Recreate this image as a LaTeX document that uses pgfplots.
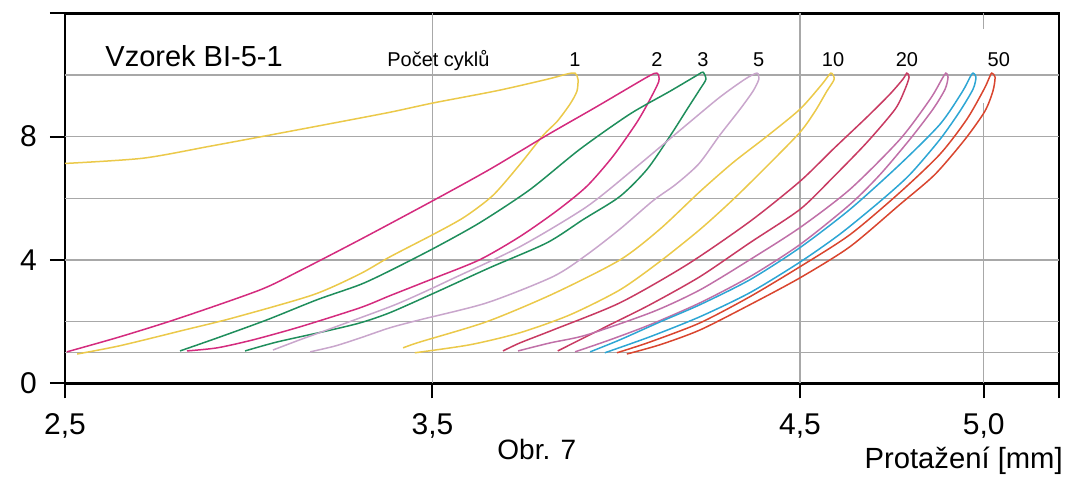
\documentclass[border=0pt]{standalone}
\usepackage{fontspec}
\setmainfont{Liberation Sans}
\usepackage{pgfplots}
\pgfplotsset{compat=1.18}

\definecolor{yellowc}{HTML}{EBC94A}
\definecolor{magc}{HTML}{D42B7E}
\definecolor{greenc}{HTML}{1F8E5C}
\definecolor{lilacc}{HTML}{C9A6CC}
\definecolor{crimc}{HTML}{C83A62}
\definecolor{mauvec}{HTML}{C070A8}
\definecolor{bluec}{HTML}{2DA6D4}
\definecolor{redc}{HTML}{D9452E}
\definecolor{gridc}{HTML}{A8A8A8}

\begin{document}
\begin{tikzpicture}
\useasboundingbox (-32.5pt,-46.85pt) rectangle (501.5pt,191.65pt);
\begin{axis}[
    at={(0pt,0pt)}, anchor=south west,
    scale only axis,
    width=497pt, height=185pt,
    xmin=2.5, xmax=5.205,
    ymin=0, ymax=12,
    clip=false,
    xtick={2.5,3.5,4.5,5.0},
    ytick={0,4,8},
    extra x ticks={5.205}, extra x tick labels={},
    extra y ticks={12}, extra y tick labels={},
    tick pos=left,
    tick align=outside,
    major tick length=7.5pt,
    every tick/.style={black, line width=1pt},
    axis line style={black, line width=1.3pt},
    /pgf/number format/assume math mode=true,
    xticklabel style={/pgf/number format/fixed, /pgf/number format/fixed zerofill,
        /pgf/number format/precision=1, /pgf/number format/use comma, yshift=-4pt},
    ticklabel style={font=\fontsize{15}{15}\selectfont},
    yticklabel style={xshift=-3pt},
    cyc/.style={no marks, line width=0.75pt, smooth, tension=0.45},
]
% grid
\draw[gridc, line width=0.6pt] (axis cs:2.5,1) -- (axis cs:5.205,1);
\draw[gridc, line width=0.6pt] (axis cs:2.5,2) -- (axis cs:5.205,2);
\draw[gridc, line width=0.6pt] (axis cs:2.5,4) -- (axis cs:5.205,4);
\draw[gridc, line width=0.6pt] (axis cs:2.5,6) -- (axis cs:5.205,6);
\draw[gridc, line width=0.6pt] (axis cs:2.5,8) -- (axis cs:5.205,8);
\draw[gridc, line width=0.6pt] (axis cs:2.5,10) -- (axis cs:5.205,10);
\draw[gridc, line width=0.6pt] (axis cs:3.5,0) -- (axis cs:3.5,12);
\draw[gridc, line width=0.6pt] (axis cs:4.5,0) -- (axis cs:4.5,12);
\draw[gridc, line width=0.6pt] (axis cs:5.0,0) -- (axis cs:5.0,9.1);
\draw[gridc, line width=0.6pt] (axis cs:5.0,11.5) -- (axis cs:5.0,12);

% cycle 1
\addplot[cyc, yellowc] coordinates {
(2.500,7.13) (2.712,7.30) (2.895,7.69) (3.066,8.07) (3.213,8.40) (3.384,8.79)
(3.501,9.09) (3.676,9.49) (3.812,9.86) (3.866,10.03) (3.888,10.06)
(3.896,9.86) (3.893,9.47) (3.874,9.05) (3.839,8.49) (3.801,8.04) (3.738,7.10)
(3.665,6.10) (3.588,5.40) (3.507,4.86) (3.384,4.10) (3.303,3.55) (3.175,2.87)
(2.957,2.12) (2.832,1.75) (2.650,1.22) (2.533,0.95)};
% cycle 2
\addplot[cyc, magc] coordinates {
(2.505,1.02) (2.650,1.51) (2.813,2.12) (3.031,3.03) (3.139,3.65) (3.303,4.66)
(3.507,5.96) (3.656,6.94) (3.812,8.05) (3.948,8.98) (4.084,9.93) (4.111,10.06)
(4.116,9.80) (4.092,9.21) (4.056,8.46) (3.991,7.36) (3.920,6.39) (3.839,5.60)
(3.738,4.76) (3.629,4.01) (3.507,3.42) (3.384,2.84) (3.303,2.45) (3.139,1.83)
(3.012,1.41) (2.914,1.15) (2.832,1.05)};
% cycle 3
\addplot[cyc, greenc] coordinates {
(2.813,1.05) (2.914,1.47) (3.050,2.06) (3.186,2.71) (3.303,3.20) (3.384,3.65)
(3.507,4.40) (3.629,5.21) (3.765,6.28) (3.901,7.59) (4.037,8.73) (4.146,9.47)
(4.220,9.99) (4.236,10.09) (4.244,9.86) (4.228,9.54) (4.193,8.89) (4.146,8.01)
(4.084,6.94) (4.010,6.06) (3.910,5.31) (3.812,4.56) (3.656,3.75) (3.507,2.94)
(3.384,2.29) (3.303,1.96) (3.213,1.70) (3.077,1.34) (2.990,1.05)};
% cycle 5
\addplot[cyc, lilacc] coordinates {
(3.066,1.08) (3.139,1.41) (3.213,1.73) (3.384,2.48) (3.466,2.90) (3.556,3.40)
(3.738,4.43) (3.920,5.73) (4.056,7.03) (4.193,8.40) (4.282,9.28) (4.350,9.86)
(4.383,10.06) (4.388,9.86) (4.372,9.47) (4.337,8.89) (4.282,8.05) (4.225,7.12)
(4.162,6.45) (4.100,5.92) (4.010,5.00) (3.920,4.17) (3.828,3.46) (3.648,2.61) (3.466,2.06)
(3.384,1.80) (3.303,1.47) (3.235,1.21) (3.167,1.02)};
% cycle 10
\addplot[cyc, yellowc] coordinates {
(3.420,1.15) (3.466,1.34) (3.648,2.00) (3.828,2.90) (4.010,4.00) (4.119,5.00)
(4.228,6.22) (4.318,7.16) (4.410,8.01) (4.500,8.89) (4.560,9.70) (4.584,10.06)
(4.593,9.86) (4.573,9.47) (4.541,8.82) (4.500,8.14) (4.410,7.04) (4.318,5.96)
(4.228,4.99) (4.119,3.95) (4.010,3.03) (3.874,2.22) (3.738,1.64) (3.602,1.25)
(3.452,0.99)};
% cycle 20
\addplot[cyc, crimc] coordinates {
(3.692,1.05) (3.738,1.31) (3.828,1.73) (4.010,2.61) (4.193,3.85) (4.364,5.25)
(4.500,6.55) (4.590,7.59) (4.682,8.63) (4.745,9.38) (4.780,9.86) (4.791,10.06)
(4.797,9.93) (4.786,9.54) (4.759,8.89) (4.682,7.81) (4.590,6.68) (4.500,5.64)
(4.364,4.56) (4.228,3.46) (4.092,2.55) (3.983,1.90) (3.901,1.41) (3.841,1.05)};
% unlabelled cycle
\addplot[cyc, mauvec] coordinates {
(3.733,1.05) (3.820,1.31) (3.920,1.57) (4.100,2.32) (4.228,3.03) (4.364,4.01)
(4.500,5.05) (4.636,6.29) (4.772,7.91) (4.854,9.21) (4.886,9.86) (4.897,10.06)
(4.903,9.93) (4.895,9.54) (4.862,8.89) (4.799,7.91) (4.718,6.77) (4.636,5.80)
(4.500,4.50) (4.364,3.46) (4.228,2.61) (4.092,1.90) (3.983,1.41) (3.888,1.02)};
% unlabelled cycle
\addplot[cyc, bluec] coordinates {
(3.929,1.02) (4.010,1.41) (4.119,1.99) (4.228,2.55) (4.364,3.36) (4.500,4.40)
(4.636,5.64) (4.772,7.10) (4.881,8.40) (4.941,9.44) (4.963,9.93) (4.971,10.06)
(4.979,9.93) (4.971,9.54) (4.935,8.82) (4.881,7.91) (4.799,6.77) (4.718,5.90)
(4.609,4.84) (4.500,3.93) (4.364,2.94) (4.228,2.16) (4.092,1.51) (3.969,0.99)};
% cycle 50
\addplot[cyc, redc] coordinates {
(4.002,0.99) (4.092,1.34) (4.228,1.96) (4.364,2.81) (4.500,3.78) (4.636,4.82)
(4.772,6.19) (4.881,7.43) (4.954,8.56) (5.001,9.54) (5.017,9.96) (5.022,10.06)
(5.031,9.93) (5.025,9.47) (5.003,8.82) (4.949,7.91) (4.867,6.77) (4.772,5.80)
(4.636,4.43) (4.500,3.42) (4.364,2.55) (4.228,1.73) (4.119,1.25) (4.029,0.95)};

% texts
\node[anchor=base west, inner sep=0pt, font=\fontsize{14.5}{14.5}\selectfont] at (axis cs:2.609,10.29) {Vzorek BI-5-1};
\node[anchor=base west, inner sep=0pt, font=\fontsize{10}{10}\selectfont] at (axis cs:3.376,10.29) {Počet cyklů};
\node[anchor=base, inner sep=0pt, font=\fontsize{10}{10}\selectfont] at (axis cs:3.888,10.29) {1};
\node[anchor=base, inner sep=0pt, font=\fontsize{10}{10}\selectfont] at (axis cs:4.111,10.29) {2};
\node[anchor=base, inner sep=0pt, font=\fontsize{10}{10}\selectfont] at (axis cs:4.236,10.29) {3};
\node[anchor=base, inner sep=0pt, font=\fontsize{10}{10}\selectfont] at (axis cs:4.388,10.29) {5};
\node[anchor=base, inner sep=0pt, font=\fontsize{10}{10}\selectfont] at (axis cs:4.590,10.29) {10};
\node[anchor=base, inner sep=0pt, font=\fontsize{10}{10}\selectfont] at (axis cs:4.791,10.29) {20};
\node[anchor=base, inner sep=0pt, font=\fontsize{10}{10}\selectfont] at (axis cs:5.041,10.29) {50};
\node[anchor=base, inner sep=0pt, font=\fontsize{14}{14}\selectfont] at (axis cs:3.784,-2.47) {Obr. 7};
\node[anchor=base east, inner sep=0pt, font=\fontsize{14.6}{14.6}\selectfont] at (axis cs:5.216,-2.75) {Protažení [mm]};
\end{axis}
\end{tikzpicture}
\end{document}
